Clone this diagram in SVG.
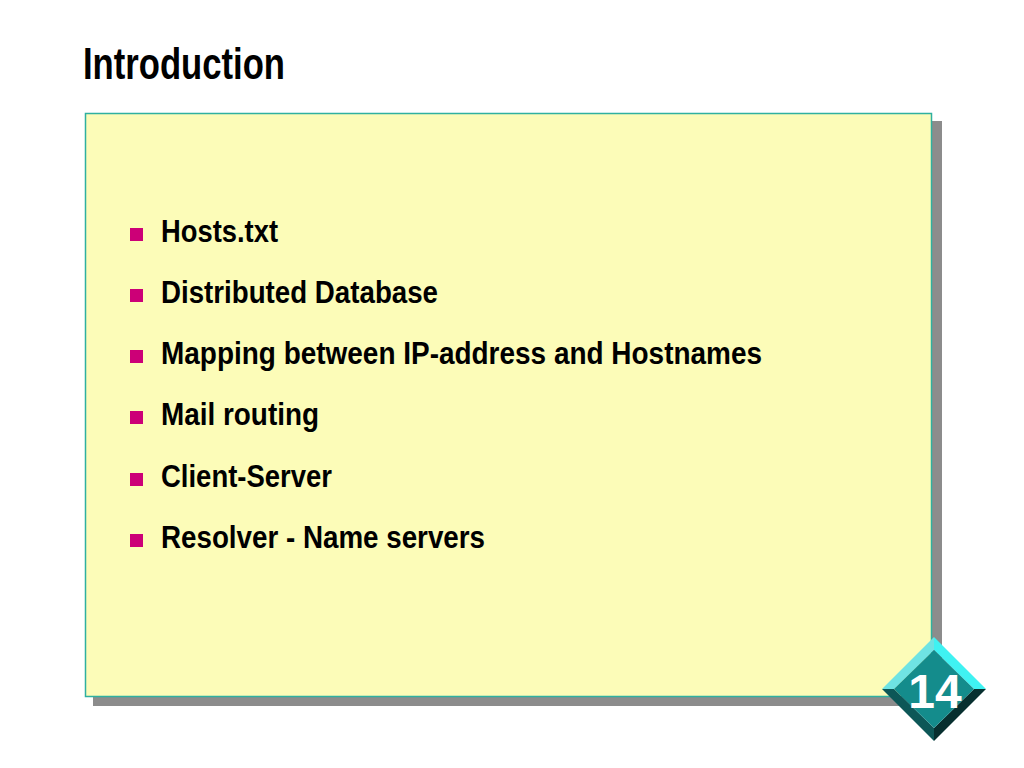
<svg xmlns="http://www.w3.org/2000/svg" width="1024" height="768" viewBox="0 0 1024 768">
<style>
.title{font-family:"Liberation Sans Narrow","Arial Narrow","Liberation Sans",sans-serif;font-weight:bold;font-size:45px;fill:#000}
.item{font-family:"Liberation Sans Narrow","Arial Narrow","Liberation Sans",sans-serif;font-weight:bold;font-size:31px;fill:#000}
.bullet{fill:#cc0077}
.num{font-family:"Liberation Sans","Arial",sans-serif;font-weight:bold;font-size:48px;fill:#fff}
</style>
<rect width="1024" height="768" fill="#ffffff"/>
<g id="title">
<text class="title" x="83" y="79" textLength="202" lengthAdjust="spacingAndGlyphs">Introduction</text>
</g>
<g id="panel">
<rect x="93" y="121" width="849" height="585" fill="#8c8c8c"/>
<rect x="85.5" y="113.5" width="846" height="583" fill="#fcfcb8" stroke="#2fb0a0" stroke-width="1.5"/>
</g>
<g id="bullets">
<rect class="bullet" x="130" y="228" width="13" height="13"/>
<text class="item" x="161" y="242" textLength="117" lengthAdjust="spacingAndGlyphs">Hosts.txt</text>
<rect class="bullet" x="130" y="289" width="13" height="13"/>
<text class="item" x="161" y="303" textLength="277" lengthAdjust="spacingAndGlyphs">Distributed Database</text>
<rect class="bullet" x="130" y="350" width="13" height="13"/>
<text class="item" x="161" y="364" textLength="601" lengthAdjust="spacingAndGlyphs">Mapping between IP-address and Hostnames</text>
<rect class="bullet" x="130" y="411" width="13" height="13"/>
<text class="item" x="161" y="425" textLength="158" lengthAdjust="spacingAndGlyphs">Mail routing</text>
<rect class="bullet" x="130" y="473" width="13" height="13"/>
<text class="item" x="161" y="487" textLength="171" lengthAdjust="spacingAndGlyphs">Client-Server</text>
<rect class="bullet" x="130" y="534" width="13" height="13"/>
<text class="item" x="161" y="548" textLength="324" lengthAdjust="spacingAndGlyphs">Resolver - Name servers</text>
</g>
<g id="page-badge">
<polygon points="934,637 882,689 894,689 934,650" fill="#6fe3e3"/>
<polygon points="934,637 986,689 974,689 934,650" fill="#3ff2f2"/>
<polygon points="882,689 934,741 934,728 894,689" fill="#0d5757"/>
<polygon points="986,689 934,741 934,728 974,689" fill="#072f2f"/>
<polygon points="934,650 974,689 934,728 894,689" fill="#148c8c"/>
<text class="num" x="935" y="708" text-anchor="middle">14</text>
</g>
</svg>
